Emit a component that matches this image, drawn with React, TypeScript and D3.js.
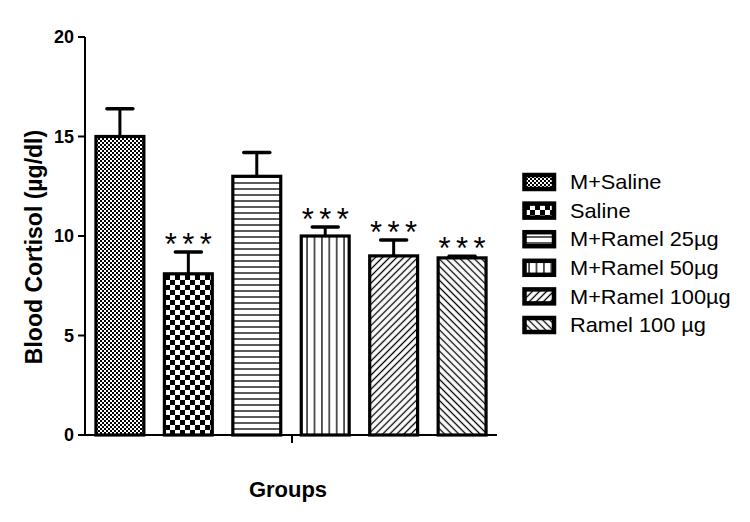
import React, { useEffect } from "react";
import * as d3 from "d3";

const categories = ["M+Saline", "Saline", "M+Ramel 25µg", "M+Ramel 50µg", "M+Ramel 100µg", "Ramel 100 µg"];
const means = [15.0, 8.1, 13.0, 10.0, 9.0, 8.9];
const errors = [1.4, 1.1, 1.2, 0.45, 0.8, 0.08];
const significant = [false, true, false, true, true, true];
const patternIds = ["pFineCheck", "pCheck", "pHoriz", "pVert", "pDiagUp", "pDiagDown"];
const yTicks = [0, 5, 10, 15, 20];

const W = 750;
const H = 522;
const x0 = 85;
const x1 = 497;
const yTop = 37;
const yBottom = 435;

export default function App() {
  useEffect(() => {
    document.body.style.margin = "0";
  }, []);

  const x = d3.scaleBand<string>().domain(categories).range([x0, x1]).paddingInner(0.3).paddingOuter(0.16);
  const y = d3.scaleLinear().domain([0, 20]).range([yBottom, yTop]);
  const font = "Arial, 'Liberation Sans', sans-serif";
  const legendY = d3.scalePoint<string>().domain(categories).range([182, 325]);

  return (
    <svg width={W} height={H} style={{ position: "absolute", left: 0, top: 0, background: "#fff" }}>
      <defs>
        <pattern id="pFineCheck" patternUnits="userSpaceOnUse" width={4} height={4}>
          <rect width={4} height={4} fill="#fff" />
          <rect x={0} y={0} width={2} height={2} fill="#000" />
          <rect x={2} y={2} width={2} height={2} fill="#000" />
        </pattern>
        <pattern id="pCheck" patternUnits="userSpaceOnUse" width={10} height={10}>
          <rect width={10} height={10} fill="#fff" />
          <rect x={0} y={0} width={5} height={5} fill="#000" />
          <rect x={5} y={5} width={5} height={5} fill="#000" />
        </pattern>
        <pattern id="pHoriz" patternUnits="userSpaceOnUse" width={6} height={6}>
          <rect width={6} height={6} fill="#fff" />
          <line x1={0} x2={6} y1={3} y2={3} stroke="#000" strokeWidth={1.3} />
        </pattern>
        <pattern id="pVert" patternUnits="userSpaceOnUse" width={7.4} height={7.4}>
          <rect width={7.4} height={7.4} fill="#fff" />
          <line y1={0} y2={7.4} x1={3.7} x2={3.7} stroke="#000" strokeWidth={1.3} />
        </pattern>
        <pattern id="pDiagUp" patternUnits="userSpaceOnUse" width={5} height={5} patternTransform="rotate(45)">
          <rect width={5} height={5} fill="#fff" />
          <line y1={0} y2={5} x1={2.5} x2={2.5} stroke="#000" strokeWidth={1.3} />
        </pattern>
        <pattern id="pDiagDown" patternUnits="userSpaceOnUse" width={5} height={5} patternTransform="rotate(-45)">
          <rect width={5} height={5} fill="#fff" />
          <line y1={0} y2={5} x1={2.5} x2={2.5} stroke="#000" strokeWidth={1.3} />
        </pattern>
      </defs>

      {/* bars */}
      {categories.map((c, i) => {
        const bx = x(c)!;
        const bw = x.bandwidth();
        const cx = bx + bw / 2;
        const top = y(means[i]);
        const eTop = y(means[i] + errors[i]);
        return (
          <g key={c}>
            <line x1={cx} x2={cx} y1={top} y2={eTop} stroke="#000" strokeWidth={3} />
            <line x1={cx - 13} x2={cx + 13} y1={eTop} y2={eTop} stroke="#000" strokeWidth={3.5} strokeLinecap="round" />
            <rect x={bx} y={top} width={bw} height={yBottom - top} fill={`url(#${patternIds[i]})`} stroke="#000" strokeWidth={3.2} />
            {significant[i] &&
              [-17.5, 0, 17.5].map((dx) => (
                <text key={dx} x={cx + dx} y={eTop + 3} textAnchor="middle" fontFamily={font} fontSize={31} fill="#000">
                  *
                </text>
              ))}
          </g>
        );
      })}

      {/* y axis */}
      <line x1={x0} x2={x0} y1={yTop} y2={yBottom + 1} stroke="#000" strokeWidth={2} />
      {yTicks.map((t) => (
        <g key={t}>
          <line x1={x0 - 7} x2={x0} y1={y(t)} y2={y(t)} stroke="#000" strokeWidth={2} />
          <text x={x0 - 11} y={y(t)} dy="0.36em" textAnchor="end" fontFamily={font} fontWeight="bold" fontSize={18} fill="#000">
            {t}
          </text>
        </g>
      ))}
      {/* x axis */}
      <line x1={x0 - 1} x2={x1} y1={yBottom} y2={yBottom} stroke="#000" strokeWidth={2} />
      <line x1={(x0 + x1) / 2 + 1} x2={(x0 + x1) / 2 + 1} y1={yBottom} y2={yBottom + 8} stroke="#000" strokeWidth={2} />

      <text
        transform={`translate(34, 247) rotate(-90)`}
        textAnchor="middle"
        dy="0.36em"
        fontFamily={font}
        fontWeight="bold"
        fontSize={23}
        fill="#000"
      >
        Blood Cortisol (µg/dl)
      </text>
      <text x={288} y={497} textAnchor="middle" fontFamily={font} fontWeight="bold" fontSize={22} fill="#000">
        Groups
      </text>

      {/* legend */}
      {categories.map((c, i) => {
        const ly = legendY(c)!;
        return (
          <g key={c}>
            <rect x={524.5} y={ly - 7} width={29.5} height={14} fill={`url(#${patternIds[i]})`} stroke="#000" strokeWidth={4.5} />
            <text transform={`translate(570, ${ly}) scale(1.1, 1)`} dy="0.36em" fontFamily={font} fontSize={19.8} fill="#000">
              {c}
            </text>
          </g>
        );
      })}
    </svg>
  );
}
